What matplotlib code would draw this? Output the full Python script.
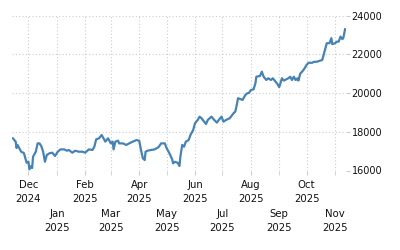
import matplotlib
matplotlib.use("Agg")
import matplotlib.pyplot as plt
import matplotlib.dates as mdates
import pandas as pd

dates = [
    "2024-11-14", "2024-11-17", "2024-11-18", "2024-11-19", "2024-11-23", "2024-11-26",
    "2024-11-29", "2024-12-01", "2024-12-02", "2024-12-04", "2024-12-05", "2024-12-06",
    "2024-12-09", "2024-12-11", "2024-12-13", "2024-12-15", "2024-12-17", "2024-12-19",
    "2024-12-21", "2024-12-24", "2024-12-27", "2024-12-30", "2025-01-02", "2025-01-05",
    "2025-01-09", "2025-01-12", "2025-01-14", "2025-01-18", "2025-01-21", "2025-01-25",
    "2025-01-29", "2025-02-01", "2025-02-05", "2025-02-09", "2025-02-11", "2025-02-13",
    "2025-02-16", "2025-02-19", "2025-02-21", "2025-02-23", "2025-02-25", "2025-02-26",
    "2025-03-01", "2025-03-03", "2025-03-04", "2025-03-06", "2025-03-09", "2025-03-10",
    "2025-03-14", "2025-03-18", "2025-03-21", "2025-03-25", "2025-03-29", "2025-04-01",
    "2025-04-03", "2025-04-05", "2025-04-07", "2025-04-08", "2025-04-10", "2025-04-14",
    "2025-04-18", "2025-04-20", "2025-04-22", "2025-04-25", "2025-04-29", "2025-05-01",
    "2025-05-04", "2025-05-07", "2025-05-08", "2025-05-10", "2025-05-13", "2025-05-15",
    "2025-05-16", "2025-05-18", "2025-05-20", "2025-05-22", "2025-05-25", "2025-05-27",
    "2025-05-30", "2025-06-01", "2025-06-04", "2025-06-06", "2025-06-08", "2025-06-11",
    "2025-06-13", "2025-06-15", "2025-06-19", "2025-06-22", "2025-06-25", "2025-06-27",
    "2025-06-30", "2025-07-02", "2025-07-05", "2025-07-09", "2025-07-13", "2025-07-15",
    "2025-07-17", "2025-07-18", "2025-07-21", "2025-07-23", "2025-07-26", "2025-07-28",
    "2025-07-30", "2025-08-01", "2025-08-04", "2025-08-06", "2025-08-07", "2025-08-11",
    "2025-08-13", "2025-08-15", "2025-08-18", "2025-08-20", "2025-08-23", "2025-08-25",
    "2025-08-28", "2025-08-30", "2025-09-01", "2025-09-04", "2025-09-06", "2025-09-09",
    "2025-09-11", "2025-09-13", "2025-09-15", "2025-09-17", "2025-09-19", "2025-09-21",
    "2025-09-22", "2025-09-24", "2025-09-26", "2025-09-28", "2025-10-01", "2025-10-03",
    "2025-10-07", "2025-10-09", "2025-10-12", "2025-10-15", "2025-10-18", "2025-10-19",
    "2025-10-21", "2025-10-23", "2025-10-26", "2025-10-28", "2025-10-29", "2025-11-01",
    "2025-11-03", "2025-11-05", "2025-11-07", "2025-11-09", "2025-11-10", "2025-11-12",
]
values = [
    17660, 17490, 17160, 17320, 16970, 16900,
    16400, 16450, 16060, 16230, 16130, 16710,
    16970, 17400, 17400, 17260, 16970, 16450,
    16800, 16890, 16920, 16750, 16970, 17090,
    17090, 17020, 17060, 16920, 17020, 16970,
    16970, 16920, 17090, 17060, 17230, 17610,
    17660, 17830, 17660, 17490, 17610, 17660,
    17400, 17490, 17090, 17490, 17540, 17400,
    17400, 17320, 17400, 17490, 17570, 17540,
    17060, 16630, 16540, 16970, 17020, 17060,
    17090, 17150, 17200, 17400, 17400, 17150,
    16890, 16580, 16370, 16450, 16400, 16230,
    16710, 17320, 17230, 17490, 17570, 17830,
    18090, 18440, 18610, 18780, 18700, 18520,
    18400, 18610, 18780, 18610, 18470, 18610,
    18780, 18520, 18610, 18700, 18950, 19040,
    19470, 19730, 19680, 19640, 19900, 19980,
    20010, 20150, 20190, 20500, 20840, 20880,
    21100, 20840, 20670, 20760, 20670, 20760,
    20590, 20470, 20300, 20760, 20640, 20710,
    20760, 20840, 20670, 20840, 20670, 20760,
    20640, 21000, 21100, 21220, 21450, 21560,
    21560, 21610, 21610, 21660, 21700, 21870,
    22220, 22570, 22570, 22830, 22520, 22570,
    22650, 22650, 22910, 22780, 22830, 23290,
]
y_ticks = [16000, 18000, 20000, 22000, 24000]
x_start = "2024-11-13"
x_end = "2025-11-13"

plt.rcParams['font.family'] = ['DejaVu Sans']
fig = plt.figure(figsize=(4, 2.5), dpi=100)
ax = fig.add_axes([0.03, 0.318, 0.835, 0.62])

x = pd.to_datetime(dates)
ax.plot(x, values, color='#4682B4', linewidth=1.6, solid_joinstyle='round')

ax.set_xlim(pd.Timestamp(x_start), pd.Timestamp(x_end))
ax.set_ylim(y_ticks[0], y_ticks[-1])
ax.set_yticks(y_ticks)
ax.set_yticklabels([str(v) for v in y_ticks])

ax.yaxis.tick_right()
ax.tick_params(axis='y', length=3, color='#cccccc', pad=1, labelsize=7, labelcolor='#111111')

ax.xaxis.set_major_locator(mdates.MonthLocator(bymonth=[12, 2, 4, 6, 8, 10]))
ax.xaxis.set_minor_locator(mdates.MonthLocator(bymonth=[1, 3, 5, 7, 9, 11]))
ax.xaxis.set_major_formatter(mdates.DateFormatter('%b\n%Y'))
ax.xaxis.set_minor_formatter(mdates.DateFormatter('%b\n%Y'))
ax.tick_params(axis='x', which='major', length=3, color='#cccccc', pad=4, labelsize=7.3, labelcolor='#111111')
ax.tick_params(axis='x', which='minor', length=3, color='#cccccc', pad=25, labelsize=7.3, labelcolor='#111111')
for lbl in ax.xaxis.get_majorticklabels() + ax.xaxis.get_minorticklabels():
    lbl.set_linespacing(1.45)

ax.grid(True, which='both', axis='x', color='#cccccc', linestyle=(0, (1, 2)), linewidth=0.8)
ax.grid(True, which='major', axis='y', color='#cccccc', linestyle=(0, (1, 2)), linewidth=0.8)
ax.set_axisbelow(True)
for s in ax.spines.values():
    s.set_visible(False)

fig.savefig('out.png', dpi=100)
